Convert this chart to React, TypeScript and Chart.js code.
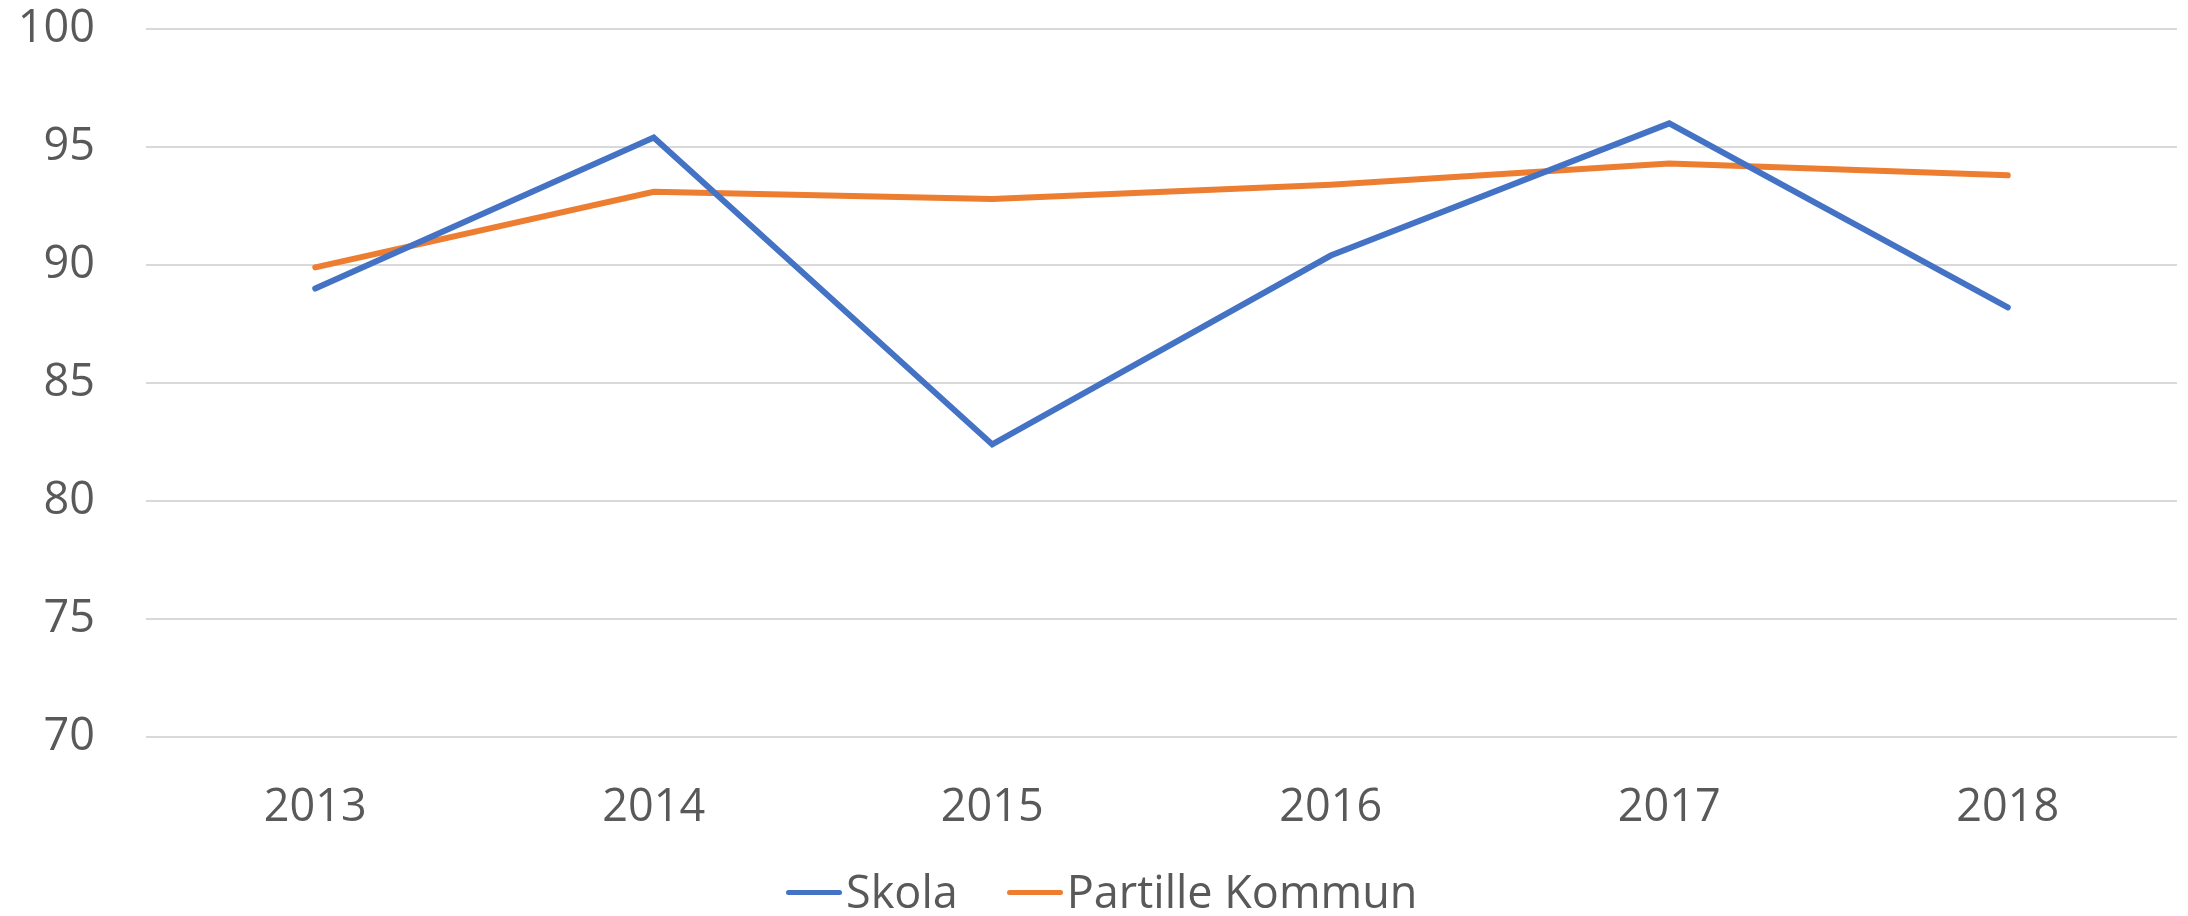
import React, { useEffect, useRef } from "react";
import { Chart, registerables } from "chart.js";

Chart.register(...registerables);

const categories = ["2013", "2014", "2015", "2016", "2017", "2018"];
const skolaValues = [89.0, 95.4, 82.4, 90.4, 96.0, 88.2];
const partilleValues = [89.9, 93.1, 92.8, 93.4, 94.3, 93.8];
const seriesNames = ["Skola", "Partille Kommun"];
const seriesColors = ["#4472C4", "#ED7D31"];
const yMin = 70;
const yMax = 100;
const yStep = 5;

const FONT = "'Open Sans', 'DejaVu Sans', sans-serif";
const TEXT = "#595959";

export default function App() {
  const ref = useRef<HTMLCanvasElement | null>(null);

  useEffect(() => {
    if (!ref.current) return;
    const chart = new Chart(ref.current, {
      type: "line",
      data: {
        labels: categories,
        datasets: [
          {
            label: seriesNames[0],
            data: skolaValues,
            borderColor: seriesColors[0],
            backgroundColor: seriesColors[0],
            borderWidth: 6,
            pointRadius: 0,
            borderCapStyle: "round",
            tension: 0,
          },
          {
            label: seriesNames[1],
            data: partilleValues,
            borderColor: seriesColors[1],
            backgroundColor: seriesColors[1],
            borderWidth: 6,
            pointRadius: 0,
            borderCapStyle: "round",
            tension: 0,
          },
        ],
      },
      options: {
        animation: false,
        responsive: true,
        maintainAspectRatio: false,
        layout: { padding: { top: 29, right: 11, bottom: 0, left: 0 } },
        plugins: {
          legend: { display: false },
          tooltip: { enabled: false },
        },
        scales: {
          x: {
            offset: true,
            grid: { display: false, drawTicks: false, offset: true },
            border: { display: false },
            ticks: {
              color: TEXT,
              font: { family: FONT, size: 45 },
              padding: 44,
              maxRotation: 0,
            },
            afterFit: (s: any) => {
              s.height = 179;
            },
          },
          y: {
            min: yMin,
            max: yMax,
            grid: { color: "#D9D9D9", lineWidth: 2, drawTicks: false },
            border: { display: false },
            ticks: {
              stepSize: yStep,
              color: TEXT,
              font: { family: FONT, size: 45 },
              padding: 51,
            },
            afterFit: (s: any) => {
              s.width = 146;
              s.paddingTop = 0;
              s.paddingBottom = 0;
            },
          },
        },
      },
    });
    return () => chart.destroy();
  }, []);

  return (
    <div style={{ position: "absolute", left: 0, top: 0, width: 2188, height: 916 }}>
      <canvas ref={ref} />
      <div
        style={{
          position: "absolute",
          left: 786,
          top: 868,
          display: "flex",
          alignItems: "center",
          fontFamily: FONT,
          fontSize: 45,
          lineHeight: "45px",
          color: TEXT,
          whiteSpace: "nowrap",
        }}
      >
        {seriesNames.map((n, i) => (
          <div key={n} style={{ display: "flex", alignItems: "center", marginRight: i === 0 ? 49 : 0 }}>
            <span
              style={{
                display: "inline-block",
                width: 56,
                height: 5,
                borderRadius: 3,
                background: seriesColors[i],
                marginTop: 4,
                marginRight: 4,
              }}
            />
            <span>{n}</span>
          </div>
        ))}
      </div>
    </div>
  );
}
